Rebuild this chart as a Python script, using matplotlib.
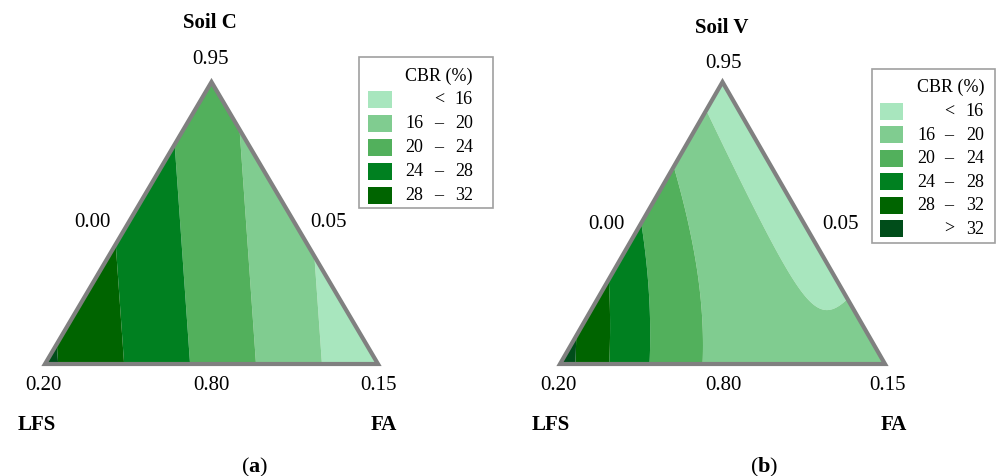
import numpy as np
import matplotlib.pyplot as plt
from matplotlib.patches import Polygon, Rectangle

plt.rcParams['font.family'] = 'Liberation Serif'
plt.rcParams['mathtext.fontset'] = 'custom'
plt.rcParams['mathtext.rm'] = 'Liberation Serif'
plt.rcParams['mathtext.bf'] = 'Liberation Serif:bold'

W, H = 997, 477

# CBR (%) at the design points of the mixture
# vertices: Soil, LFS, FA   midpoints: Soil-LFS, Soil-FA, LFS-FA
soil_c_vertices = [21.5, 32.8, 12.6]
soil_c_midpoints = [27.15, 17.05, 22.7]
soil_v_vertices = [14.0, 34.0, 17.2]
soil_v_midpoints = [24.0, 14.95, 18.87]

corner_labels = ['0.95', '0.20', '0.15']   # top, bottom-left, bottom-right
edge_labels = ['0.00', '0.05', '0.80']     # left, right, bottom
component_names = ['LFS', 'FA']
panel_titles = ['Soil C', 'Soil V']
panel_letters = ['a', 'b']

cbr_levels = [0, 16, 20, 24, 28, 32, 60]
cbr_colors = ['#a8e6be', '#80cc90', '#52b05c', '#008020', '#006400', '#004d1a']
legend_rows = [('', '<', '16'), ('16', '\u2013', '20'), ('20', '\u2013', '24'),
               ('24', '\u2013', '28'), ('28', '\u2013', '32'), ('', '>', '32')]


def scheffe_surface(vertices, midpoints, a, b, c):
    '''Quadratic Scheffe model through the six design points.'''
    ya, yb, yc = vertices
    mab, mac, mbc = midpoints
    bab = 4 * mab - 2 * ya - 2 * yb
    bac = 4 * mac - 2 * ya - 2 * yc
    bbc = 4 * mbc - 2 * yb - 2 * yc
    return ya * a + yb * b + yc * c + bab * a * b + bac * a * c + bbc * b * c


def draw_triangle(ax, vertices, midpoints):
    x, y = np.meshgrid(np.linspace(0, 1, 401), np.linspace(0, 1, 401))
    a = y
    c = x - 0.5 * y
    b = 1 - a - c
    z = scheffe_surface(vertices, midpoints, a, b, c)
    corners = [[0, 0], [1, 0], [0.5, 1]]
    cs = ax.contourf(x, y, z, levels=cbr_levels, colors=cbr_colors, antialiased=True)
    clip = Polygon(corners, closed=True, transform=ax.transData)
    cs.set_clip_path(clip)
    ax.add_patch(Polygon(corners, closed=True, fill=False, edgecolor='#808080',
                         linewidth=3, joinstyle='miter', clip_on=False, zorder=3))
    ax.set_xlim(0, 1)
    ax.set_ylim(0, 1)
    ax.axis('off')


def draw_legend(ov, box, header_y, row_y, pitch, patch_x, num_x, nrows):
    left, top, right, bottom = box
    ov.add_patch(Rectangle((left, top), right - left, bottom - top, fill=False,
                           edgecolor='#a0a0a0', linewidth=1.2))
    ov.text((num_x[0] + num_x[2]) / 2, header_y, 'CBR (%)', fontsize=13,
            ha='center', va='center')
    for i in range(nrows):
        yy = row_y + i * pitch
        ov.add_patch(Rectangle((patch_x[0], yy - 8.5), patch_x[1] - patch_x[0], 17,
                               facecolor=cbr_colors[i], edgecolor='none'))
        lo, sep, hi = legend_rows[i]
        ov.text(num_x[0], yy, lo, fontsize=13, ha='left', va='center')
        ov.text(num_x[1], yy, sep, fontsize=13, ha='center', va='center')
        ov.text(num_x[2], yy, hi, fontsize=13, ha='right', va='center')


fig = plt.figure(figsize=(W / 100, H / 100), dpi=100)

# triangle frames in pixels: left, right, top, bottom
frames = [(45, 378, 83, 365), (560, 885, 83, 365)]
surfaces = [(soil_c_vertices, soil_c_midpoints), (soil_v_vertices, soil_v_midpoints)]

for (l, r, t, btm), (verts, mids) in zip(frames, surfaces):
    ax = fig.add_axes([l / W, (H - btm) / H, (r - l) / W, (btm - t) / H])
    draw_triangle(ax, verts, mids)

ov = fig.add_axes([0, 0, 1, 1])
ov.set_xlim(0, W)
ov.set_ylim(H, 0)
ov.axis('off')

text_pos = [
    dict(title=(210, 23), top=(210, 60), left=(92, 223), right=(328, 223),
         bl=(43, 386), bm=(211, 386), br=(378, 386), lfs=(37, 425), fa=(384, 425),
         letter=(255, 467)),
    dict(title=(722, 28), top=(723, 64), left=(606, 225), right=(840, 225),
         bl=(558, 386), bm=(723, 386), br=(887, 386), lfs=(551, 425), fa=(894, 425),
         letter=(764, 467)),
]

for i, p in enumerate(text_pos):
    ov.text(*p['title'], panel_titles[i], fontsize=15, fontweight='bold',
            ha='center', va='center')
    ov.text(*p['top'], corner_labels[0], fontsize=15, ha='center', va='center')
    ov.text(*p['left'], edge_labels[0], fontsize=15, ha='center', va='center')
    ov.text(*p['right'], edge_labels[1], fontsize=15, ha='center', va='center')
    ov.text(*p['bl'], corner_labels[1], fontsize=15, ha='center', va='center')
    ov.text(*p['bm'], edge_labels[2], fontsize=15, ha='center', va='center')
    ov.text(*p['br'], corner_labels[2], fontsize=15, ha='center', va='center')
    ov.text(*p['lfs'], component_names[0], fontsize=15, fontweight='bold',
            ha='center', va='center')
    ov.text(*p['fa'], component_names[1], fontsize=15, fontweight='bold',
            ha='center', va='center')
    ov.text(*p['letter'], '($\\mathbf{%s}$)' % panel_letters[i], fontsize=16,
            ha='center', va='center')

draw_legend(ov, (359, 58, 493, 209), 76, 100, 24, (368, 392), (405, 439, 473), 5)
draw_legend(ov, (872, 70, 995, 244), 87, 112, 23.5, (880, 903), (917, 949, 984), 6)

fig.savefig('out.png', dpi=100)
